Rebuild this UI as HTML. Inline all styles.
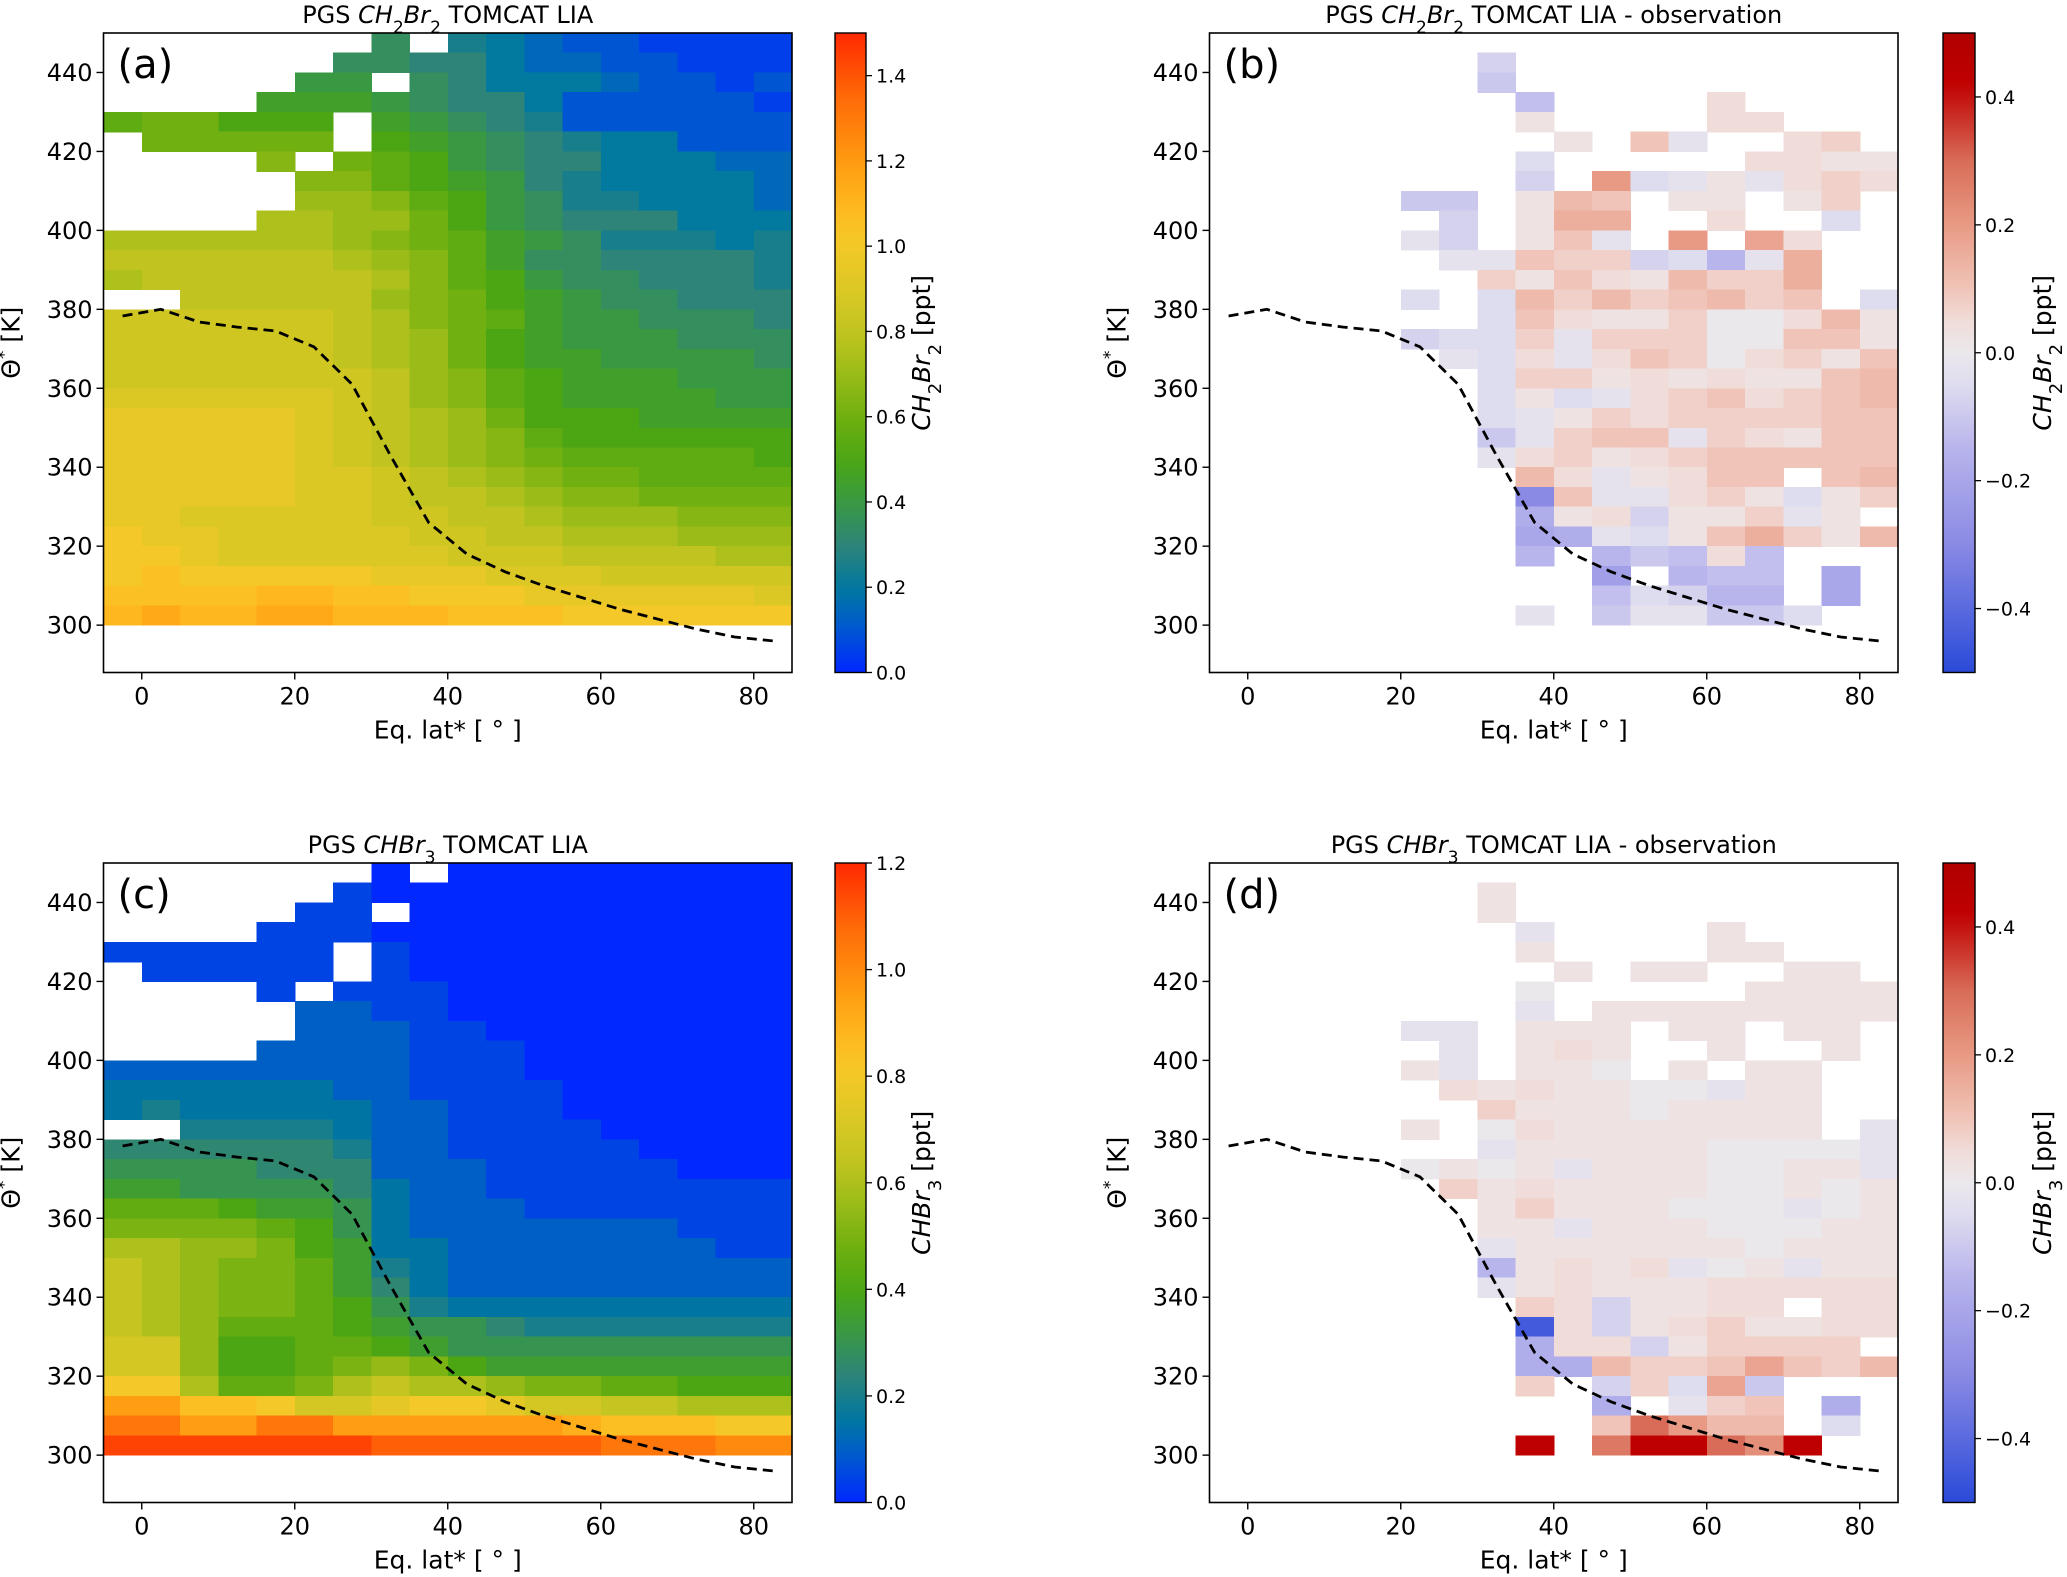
<!DOCTYPE html>
<html><head><meta charset="utf-8"><style>
html,body{margin:0;padding:0;background:#fff;}
svg{display:block;font-family:"DejaVu Sans","Liberation Sans",sans-serif;}
</style></head><body>
<svg id="fig" xmlns="http://www.w3.org/2000/svg" width="2067" height="1577" viewBox="0 0 2067 1577"></svg>
<script>
// ---- data ----
const latBins = [-5,0,5,10,15,20,25,30,35,40,45,50,55,60,65,70,75,80];
const thetaBinsTopDown = [445,440,435,430,425,420,415,410,405,400,395,390,385,380,375,370,365,360,355,350,345,340,335,330,325,320,315,310,305,300];
const xTicks = [0,20,40,60,80];
const yTicks = [300,320,340,360,380,400,420,440];
const cbTicksA = [0.0,0.2,0.4,0.6,0.8,1.0,1.2,1.4];
const cbTicksC = [0.0,0.2,0.4,0.6,0.8,1.0,1.2];
const cbTicksDiff = [-0.4,-0.2,0.0,0.2,0.4];
// sequential panels: value = base36(char) * 0.05 ppt ; '.' = no data
const gridA = [
".......7.543221111","......776643322111",".....88.7644432212","....99987664222221",
"bccaaa.98765222222",".ccccc.a9876544222","....d.cba876644433",".....ddba986544443",
".....eedba87554443","....ffeeca87666444","ffffffedcb98755545","ggggggfedb97766665",
"fggggggfdba8776665","..gggggedca9877666","hhhhhhgfdcb9887776","hhhhhhgfeca9888777",
"hhhhhhgfeca9988887","hhhhhhhgedba999888","iiiiiihgedba999988","jjjjjihgfecaaa9999",
"jjjjjihgfedbaaaaaa","jjjjjihgfedcbbbbba","jjjjjiihgfedccbbbb","jjjjjiihggfeddcccc",
"jjiiiiihhggfeeeddd","kjjiiiiihhggfffeee","kkjiiiiiihhhggggff","klkkkkkjjjiiihhhhh",
"llllmmllkkkjjjjjji","mnmmnnmmmlllkkkkkk"];
const gridC = [
".......0.000000000","......100000000000",".....11.0000000000","....11100000000000",
"111111.10000000000",".11111.10000000000","....1.111000000000",".....2211000000000",
".....2221100000000","....22221110000000","222222221110000000","333333221111000000",
"343333322111000000","..4444322111100000","555555422111110000","666655522211111000",
"776666532211111111","999877632221111111","aaaa98632222222111","ccbba8733222222211",
"dcbaa9743222222222","dcbaa9753222222222","dcbaa9864333333333","dcb999876654444444",
"eeb889987666666666","eeb889aba877777777","ggc99acdccbaa99888","jjhhgeefggfeeddccc",
"lljjlljjjjjjihhhgg","nnnnnnnmmmmmmlllkk"];
// difference panels: value = (base36(char) - 18) * 0.025 ppt ; '.' = no data
const gridB = [
"..................",".......f..........",".......e..........","........d....k....",
"........j....kk...",".........j.mh..kl.","........g.....kkjj","........f.qghjhklk",
".....ee.jnm.jj.jl.","......f.joo..k..g.",".....hf.jmh.q.pk..","......hhmllfgcho..",
".......ljmkjnllo..",".....g.gnlnlmnlm.g",".......gmkjjliiknj",".....fgglhllliimmj",
"......hgkhkmlikljm",".......glljkjkjjmn",".......gjghklmklmn",".......ghjlkllllmm",
".......ehlmmhlkjmm",".......hkljklmmmmm","........nkhjkmm.mn","........6mhhkljgjl",
"........bjkfjjlhj.","........abhgjmoljn","........c.cedkd...","..........9.cdd.a.",
"..........dgfcc.a.","........h.ehheeg.."];
const gridD = [
"..................",".......j..........",".......j..........","........h....j....",
"........j....jj...",".........j.jj..jj.","........i.....jjjj","........h.jjjjjjjj",
".....hh.jjj.jj.jj.","......h.jkj..j..j.",".....jh.jji.j.jj..","......kjkjjiihjj..",
".......ljjjijjjj..",".....j.ikjjjjjjj.h",".......hjjjjjiiiih",".....ijijhjjjiijjh",
"......ljkjjjjiijij",".......jljjjiiihij",".......jjhjjjiiijj",".......hjjjjjjijjj",
".......cjkjkhijhjj",".......hjkjjjkkkkk","........lkfjjkk.kk","........0kfjkljjkk",
"........bkkfjllll.","........bbnllmpmln","........l.flgpe...","..........b.hlm.b.",
"..........muqnn.g.","........z.tzzurz.."];
// tropopause (dashed line)
const tpLat = [-2.5,2.5,7.5,12.5,17.5,22.5,27.5,32.5,37.5,42.5,47.5,52.5,57.5,62.5,67.5,72.5,77.5,82.5];
const tpTheta = [378.3,380,376.8,375.5,374.5,370.5,361,343,326,318,313.5,310,307,304,301.5,299,297,296];

// ---- colormaps ----
const seqStops = [[0,'#0028ff'],[0.07,'#0058d0'],[0.13,'#0078a0'],[0.2,'#2e8478'],[0.27,'#3a9a40'],[0.33,'#4aa614'],[0.4,'#70b010'],[0.47,'#9cbc18'],[0.53,'#c0c420'],[0.6,'#dcc824'],[0.67,'#f4c828'],[0.73,'#ffb820'],[0.8,'#ff9a10'],[0.9,'#ff6a08'],[1,'#ff2800']];
const divStops = [[0,'#2a4ad8'],[0.2,'#8a8ae4'],[0.35,'#b8b4ec'],[0.45,'#dedcef'],[0.5,'#ebe8ec'],[0.55,'#f0dcd8'],[0.6,'#f0c4b8'],[0.7,'#e89a84'],[0.8,'#d86c58'],[0.92,'#c00000'],[1,'#b00000']];
function hex(h){return [parseInt(h.substr(1,2),16),parseInt(h.substr(3,2),16),parseInt(h.substr(5,2),16)];}
function cmap(stops,t){
  t=Math.max(0,Math.min(1,t));
  for(let i=1;i<stops.length;i++){
    if(t<=stops[i][0]){
      const a=stops[i-1],b=stops[i],f=(t-a[0])/(b[0]-a[0]);
      const ca=hex(a[1]),cb=hex(b[1]);
      return 'rgb('+ca.map((c,k)=>Math.round(c+(cb[k]-c)*f)).join(',')+')';
    }
  }
  return stops[stops.length-1][1];
}
function decodeSeq(ch){return ch==='.'?null:parseInt(ch,36)*0.05;}
function decodeDiv(ch){return ch==='.'?null:(parseInt(ch,36)-18)*0.025;}

const NS='http://www.w3.org/2000/svg';
const svg=document.getElementById('fig');
function mk(tag,attrs,parent){const e=document.createElementNS(NS,tag);for(const k in attrs)e.setAttribute(k,attrs[k]);(parent||svg).appendChild(e);return e;}

const defs=mk('defs',{});

const panels=[
 {id:'a',L:103.5,R:792,T:33,B:672.5,grid:gridA,dec:decodeSeq,stops:seqStops,vmin:0,vmax:1.5,cbL:835,cbR:866,cbTicks:cbTicksA,species:['CH','2','Br','2'],diff:false},
 {id:'b',L:1209.5,R:1898,T:33,B:672.5,grid:gridB,dec:decodeDiv,stops:divStops,vmin:-0.5,vmax:0.5,cbL:1943,cbR:1975,cbTicks:cbTicksDiff,species:['CH','2','Br','2'],diff:true},
 {id:'c',L:103.5,R:792,T:863,B:1502.5,grid:gridC,dec:decodeSeq,stops:seqStops,vmin:0,vmax:1.2,cbL:835,cbR:866,cbTicks:cbTicksC,species:['CHBr','3'],diff:false},
 {id:'d',L:1209.5,R:1898,T:863,B:1502.5,grid:gridD,dec:decodeDiv,stops:divStops,vmin:-0.5,vmax:0.5,cbL:1943,cbR:1975,cbTicks:cbTicksDiff,species:['CHBr','3'],diff:true}
];

function addSpecies(textEl,sp,fs){
  for(let i=0;i<sp.length;i+=2){
    const it=mk('tspan',{'font-style':'italic'},textEl);it.textContent=sp[i];
    const sb=mk('tspan',{'baseline-shift':'sub','font-size':Math.round(fs*0.7)},textEl);sb.textContent=sp[i+1];
  }
}

panels.forEach(p=>{
  const g=mk('g',{});
  
  
  const xs=v=>p.L+(v+5)/90*(p.R-p.L);
  const ys=v=>p.B-(v-288)/162*(p.B-p.T);
  const cells=mk('g',{'shape-rendering':'crispEdges'},g);
  
  
  p.grid.forEach((row,ri)=>{
    const th=thetaBinsTopDown[ri];
    for(let ci=0;ci<latBins.length;ci++){
      const v=p.dec(row[ci]);
      if(v===null||isNaN(v))continue;
      const x0=xs(latBins[ci]),x1=xs(latBins[ci]+5),y0=ys(th+5),y1=ys(th);
      const r=mk('rect',{x:x0.toFixed(2),y:y0.toFixed(2),width:(x1-x0+0.6).toFixed(2),height:(y1-y0+0.6).toFixed(2),fill:cmap(p.stops,(v-p.vmin)/(p.vmax-p.vmin))},cells);
      
      
    }
  });
  const pts=tpLat.map((la,i)=>xs(la).toFixed(1)+','+ys(tpTheta[i]).toFixed(1)).join(' ');
  const pl=mk('polyline',{points:pts,fill:'none',stroke:'#000','stroke-width':2.8,'stroke-dasharray':'10,6'},g);
  
  
  const fr=mk('rect',{x:p.L,y:p.T,width:p.R-p.L,height:p.B-p.T,fill:'none',stroke:'#000','stroke-width':1.6},g);
  
  
  xTicks.forEach(t=>{
    const x=xs(t);
    mk('line',{x1:x,x2:x,y1:p.B,y2:p.B+7,stroke:'#000','stroke-width':1.4},g);
    const tx=mk('text',{x:x,y:p.B+32,'font-size':24,'text-anchor':'middle',fill:'#000'},g);
    tx.textContent=t;
    
    
  });
  yTicks.forEach(t=>{
    const y=ys(t);
    mk('line',{x1:p.L-7,x2:p.L,y1:y,y2:y,stroke:'#000','stroke-width':1.4},g);
    const ty=mk('text',{x:p.L-11,y:y+8.5,'font-size':24,'text-anchor':'end',fill:'#000'},g);
    ty.textContent=t;
    
    
  });
  const xl=mk('text',{x:(p.L+p.R)/2,y:p.B+66,'font-size':25,'text-anchor':'middle'},g);
  xl.textContent='Eq. lat* [ ° ]';
  
  
  const cy=(p.T+p.B)/2-10, cx=p.L-84;
  const yl=mk('text',{x:cx,y:cy,'font-size':25,'text-anchor':'middle',transform:'rotate(-90 '+cx+' '+cy+')'},g);
  
  
  const t1=mk('tspan',{},yl);t1.textContent='Θ';
  const t2=mk('tspan',{'baseline-shift':'super','font-size':17},yl);t2.textContent='*';
  const t3=mk('tspan',{},yl);t3.textContent=' [K]';
  const tt=mk('text',{x:(p.L+p.R)/2,y:p.T-10,'font-size':24,'text-anchor':'middle'},g);
  
  
  const s0=mk('tspan',{},tt);s0.textContent='PGS ';
  addSpecies(tt,p.species,24);
  const s1=mk('tspan',{},tt);s1.textContent=p.diff?' TOMCAT LIA - observation':' TOMCAT LIA';
  const lt=mk('text',{x:p.L+14,y:p.T+45,'font-size':40},g);
  lt.textContent='('+p.id+')';
  
  
  const gid='grad'+p.id;
  const lg=mk('linearGradient',{id:gid,x1:0,y1:1,x2:0,y2:0},defs);
  for(let i=0;i<=40;i++){mk('stop',{offset:i/40,'stop-color':cmap(p.stops,i/40)},lg);}
  const cb=mk('rect',{x:p.cbL,y:p.T,width:p.cbR-p.cbL,height:p.B-p.T,fill:'url(#'+gid+')',stroke:'#000','stroke-width':1.4},g);
  
  
  const cys=v=>p.B-(v-p.vmin)/(p.vmax-p.vmin)*(p.B-p.T);
  p.cbTicks.forEach(t=>{
    const y=cys(t);
    mk('line',{x1:p.cbR,x2:p.cbR+6,y1:y,y2:y,stroke:'#000','stroke-width':1.3},g);
    const ct=mk('text',{x:p.cbR+10,y:y+7,'font-size':19},g);
    ct.textContent=(t<0?'−':'')+Math.abs(t).toFixed(1);
    
    
  });
  const lx=p.cbR+(p.diff?76:64), ly=(p.T+p.B)/2;
  const cl=mk('text',{x:lx,y:ly,'font-size':25,'text-anchor':'middle',transform:'rotate(-90 '+lx+' '+ly+')'},g);
  
  
  addSpecies(cl,p.species,25);
  const c2=mk('tspan',{},cl);c2.textContent=' [ppt]';
});
</script>
</body></html>
